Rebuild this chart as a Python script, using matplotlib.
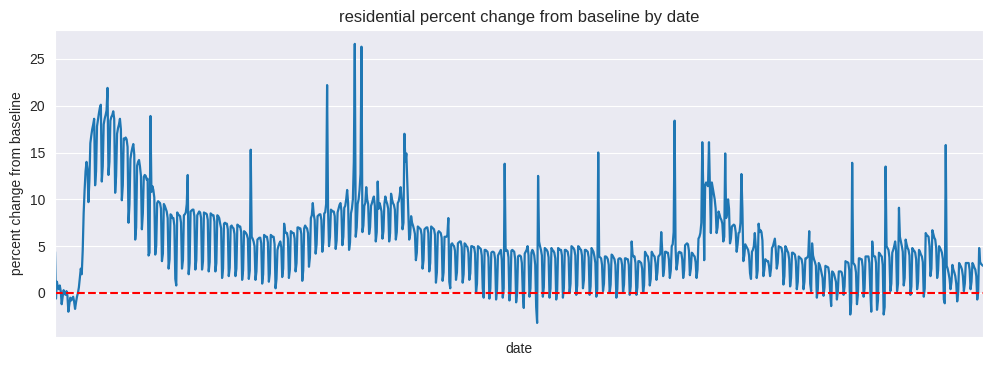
import numpy as np
import pandas as pd
import matplotlib
matplotlib.use("Agg")
import matplotlib.pyplot as plt
import seaborn as sns

# residential percent change from baseline, one value per day from 2020-02-15
# each row is one week, Saturday to Friday
res_2020 = [
    4.4, -0.6, 1.2, 0.6, 0.4, 0.8, 0.2,
    -1.2, -0.4, 0.3, 0.0, -0.2, 0.2, -0.3,
    -2.0, -1.2, -0.5, -0.8, -0.6, -0.4, -0.9,
    -1.7, -1.0, -0.4, 0.0, 0.6, 1.6, 2.6,
    2.0, 4.5, 8.5, 11.0, 13.0, 14.0, 13.2,
    9.7, 12.0, 16.0, 16.8, 17.5, 18.0, 18.6,
    11.5, 13.0, 17.8, 18.5, 19.2, 19.8, 20.1,
    11.9, 13.5, 18.0, 18.6, 19.0, 19.5, 21.9,
    12.6, 14.0, 18.4, 18.8, 19.0, 19.4, 18.6,
    10.7, 12.5, 17.0, 17.6, 18.0, 18.6, 17.5,
    9.9, 11.5, 16.5, 16.4, 16.6, 16.4, 15.6,
    7.5, 9.5, 14.3, 15.0, 15.5, 15.9, 14.8,
    5.7, 7.0, 13.6, 14.0, 14.2, 13.5, 12.5,
    6.8, 8.5, 12.4, 12.6, 12.5, 12.1, 12.2,
    4.0, 4.3, 18.9, 10.8, 11.4, 11.0, 10.2,
    4.1, 5.0, 9.6, 9.8, 9.7, 9.6, 9.0,
    3.4, 4.2, 9.5, 9.3, 9.0, 8.7, 8.0,
    2.6, 3.6, 8.4, 8.3, 8.0, 8.0, 7.2,
    1.5, 0.8, 8.6, 8.4, 8.3, 8.2, 7.5,
    2.6, 3.5, 8.3, 8.4, 8.6, 9.5, 12.6,
    2.0, 3.2, 8.7, 8.8, 8.9, 8.9, 8.2,
    2.5, 3.5, 8.3, 8.5, 8.7, 8.6, 8.0,
    2.5, 3.4, 8.6, 8.5, 8.5, 8.4, 7.8,
    2.3, 3.3, 8.5, 8.4, 8.3, 8.3, 7.6,
    2.3, 3.2, 8.3, 8.2, 8.0, 7.4, 6.9,
    1.6, 2.6, 7.4, 7.5, 7.4, 7.4, 6.8,
    1.8, 2.7, 7.1, 7.2, 7.0, 6.9, 6.3,
    1.8, 2.6, 7.3, 7.2, 7.1, 7.1, 6.5,
    1.4, 2.4, 6.6, 6.5, 6.4, 6.2, 5.8,
    1.5, 2.4, 15.3, 6.0, 5.8, 5.5, 5.0,
    1.4, 2.3, 5.7, 5.8, 5.9, 5.9, 5.3,
    1.0, 2.0, 6.2, 6.1, 6.0, 6.0, 5.4,
    1.2, 2.1, 6.2, 6.1, 6.0, 6.0, 5.2,
    0.5, 1.5, 4.6, 5.0, 5.3, 5.5, 4.9,
    1.7, 2.6, 7.4, 6.6, 6.4, 6.4, 5.8,
    1.6, 2.5, 6.6, 6.5, 6.4, 6.4, 5.8,
    2.3, 3.2, 7.0, 7.0, 6.9, 6.9, 6.3,
    1.3, 2.4, 6.9, 7.2, 7.0, 6.9, 6.4,
    2.8, 3.8, 8.0, 8.3, 9.6, 8.4, 7.8,
    4.2, 5.2, 8.2, 8.3, 8.4, 8.4, 7.8,
    4.4, 5.4, 8.5, 8.6, 9.5, 22.2, 8.9,
    5.0, 6.0, 8.9, 8.8, 8.7, 8.7, 8.2,
    4.7, 5.6, 8.6, 9.0, 9.4, 9.6, 8.8,
    5.1, 6.0, 9.1, 9.3, 10.0, 11.0, 9.6,
    4.6, 5.4, 8.5, 9.0, 10.0, 14.0, 26.6,
    6.0, 7.0, 9.5, 10.0, 11.0, 12.7, 26.3,
]

res_2021 = [
    6.5, 7.2, 9.3, 9.6, 11.3, 10.0, 9.5,
    6.3, 7.0, 9.3, 9.6, 10.0, 10.3, 9.3,
    5.5, 6.5, 11.9, 9.0, 9.6, 9.2, 8.7,
    5.8, 6.6, 9.5, 10.3, 9.8, 9.5, 9.0,
    5.5, 6.4, 10.6, 10.0, 9.6, 9.4, 8.9,
    5.7, 6.5, 9.6, 9.8, 10.4, 11.3, 10.0,
    6.8, 7.5, 17.0, 14.0, 14.9, 11.9, 9.0,
    5.7, 6.2, 8.2, 7.5, 7.2, 6.8, 6.3,
    3.5, 4.3, 7.1, 7.0, 6.9, 6.8, 6.2,
    2.6, 3.5, 6.8, 6.9, 7.0, 7.0, 6.4,
    2.3, 3.2, 7.1, 7.0, 6.9, 6.8, 6.2,
    1.1, 2.2, 6.4, 6.6, 6.5, 6.4, 5.9,
    1.3, 2.2, 6.0, 6.0, 6.0, 6.2, 8.0,
    1.2, 0.5, 5.2, 5.3, 5.1, 5.0, 4.5,
    1.4, 2.2, 5.3, 5.4, 5.5, 5.5, 4.9,
    1.1, 2.0, 5.3, 5.2, 5.0, 4.9, 4.3,
    1.4, 2.1, 5.0, 5.0, 4.9, 4.9, 4.2,
    0.0, 1.0, 5.0, 4.9, 4.8, 4.7, 4.0,
    0.5, -0.5, 4.6, 4.6, 4.5, 4.4, 3.8,
    -0.6, 0.5, 4.3, 4.4, 4.4, 4.3, 3.6,
    -0.7, 0.4, 4.0, 4.2, 4.4, 4.6, 3.5,
    -0.5, 0.5, 13.8, 4.5, 4.6, 4.5, 3.8,
    -0.8, 0.2, 4.5, 4.6, 4.5, 4.4, 3.6,
    -1.0, 0.0, 3.9, 4.0, 4.0, 3.9, 3.2,
    0.0, -1.6, 4.2, 4.4, 4.6, 5.0, 4.0,
    -0.4, 0.5, 4.3, 4.6, 4.4, 4.0, 3.0,
    -1.5, -3.2, 12.5, 5.5, 5.0, 4.6, 4.0,
    -0.4, 0.6, 4.8, 4.7, 4.6, 4.4, 3.8,
    -0.5, 0.5, 4.8, 4.6, 4.5, 4.3, 3.7,
    -0.7, 0.3, 4.8, 4.7, 4.6, 4.6, 4.0,
    -0.5, 0.5, 4.6, 4.6, 4.5, 4.4, 3.8,
    0.0, 1.0, 5.0, 4.9, 4.8, 4.6, 4.0,
    -0.2, 0.8, 5.0, 4.9, 4.7, 4.6, 4.0,
    0.5, 1.4, 4.6, 4.6, 4.5, 4.4, 3.8,
    -0.2, 0.7, 4.8, 4.6, 4.4, 3.9, 3.2,
    -0.4, 0.4, 15.0, 3.9, 3.8, 3.7, 3.0,
    0.2, 1.0, 3.9, 3.9, 3.8, 3.6, 3.0,
    0.0, 0.9, 4.1, 4.0, 3.8, 3.6, 3.0,
    -0.5, 0.4, 3.6, 3.7, 3.7, 3.6, 3.0,
    0.0, 0.9, 3.7, 3.7, 3.6, 3.6, 3.0,
    -0.2, 0.7, 5.5, 4.1, 3.9, 3.9, 3.2,
    -0.2, 0.6, 3.4, 3.4, 3.3, 3.2, 2.6,
    0.0, 0.8, 4.4, 4.2, 4.0, 3.9, 3.2,
    0.8, 1.5, 4.4, 4.2, 4.0, 3.9, 3.2,
    1.4, 2.2, 3.9, 4.0, 4.2, 6.5, 4.6,
    1.8, 2.5, 4.4, 4.4, 4.3, 4.3, 3.6,
    1.6, 2.4, 5.0, 5.2, 6.5, 18.4, 4.8,
    2.5, 3.2, 4.3, 4.4, 4.3, 4.3, 3.6,
    1.6, 2.4, 5.1, 5.2, 5.3, 5.2, 4.5,
    1.9, 2.6, 4.3, 4.2, 4.0, 3.9, 3.3,
    1.6, 2.5, 5.8, 6.0, 6.4, 7.5, 16.1,
    11.2, 3.5, 11.5, 11.8, 11.6, 11.4, 16.1,
]

res_2022 = [
    11.0, 6.4, 11.8, 11.2, 10.6, 10.0, 9.0,
    6.4, 7.0, 8.7, 8.4, 8.0, 7.8, 7.4,
    5.5, 6.0, 14.9, 8.0, 8.5, 10.0, 9.0,
    5.3, 5.8, 7.1, 7.2, 7.3, 7.2, 6.5,
    4.4, 5.2, 6.4, 6.5, 7.5, 12.7, 9.0,
    3.4, 4.0, 5.2, 5.0, 4.8, 4.6, 4.0,
    2.1, 1.5, 4.4, 4.6, 5.0, 6.4, 5.0,
    1.6, 2.4, 7.4, 6.5, 6.7, 6.5, 5.6,
    1.8, 2.5, 3.6, 3.5, 3.4, 3.4, 2.8,
    1.8, 2.6, 4.8, 5.0, 5.4, 5.8, 4.6,
    2.6, 3.2, 5.0, 4.9, 4.9, 4.8, 4.2,
    0.9, 1.8, 5.0, 4.8, 4.5, 4.3, 3.6,
    0.7, 1.6, 4.3, 4.3, 4.2, 4.1, 3.4,
    0.4, 1.2, 3.9, 3.8, 3.7, 3.6, 3.0,
    0.4, 1.2, 3.7, 3.7, 3.8, 4.0, 6.6,
    1.0, 0.2, 5.3, 4.0, 3.6, 3.3, 2.9,
    -0.5, 0.4, 3.2, 3.0, 2.6, 2.1, 1.6,
    -0.3, 0.6, 2.9, 2.8, 2.8, 2.7, 2.0,
    0.0, -1.4, 2.3, 2.2, 2.0, 1.6, 1.2,
    -0.7, 0.2, 2.3, 2.3, 2.3, 2.2, 1.6,
    -0.2, 0.7, 3.4, 3.3, 3.3, 3.2, 2.4,
    -2.3, -1.0, 13.9, 3.2, 3.1, 2.9, 2.2,
    -1.2, -0.2, 3.7, 3.7, 3.6, 3.6, 2.8,
    -0.4, 0.5, 3.9, 3.9, 3.9, 3.9, 3.2,
    0.2, -2.0, 5.5, 4.0, 3.9, 3.9, 3.2,
    -1.8, -0.8, 4.3, 4.2, 4.0, 3.9, 3.0,
    -2.3, -1.5, 13.5, 5.0, 4.8, 4.6, 3.8,
    0.2, 1.0, 4.3, 4.6, 5.0, 5.5, 4.5,
    0.2, 1.0, 9.1, 6.0, 5.5, 5.0, 4.4,
    0.8, 1.6, 5.7, 5.2, 4.8, 4.6, 4.0,
    -0.2, 0.7, 4.8, 4.6, 4.5, 4.3, 3.6,
    0.4, 1.2, 4.6, 4.4, 4.1, 3.9, 3.3,
    -0.4, 0.5, 6.4, 6.2, 6.1, 6.0, 5.0,
    1.8, 2.6, 6.7, 6.3, 5.9, 5.7, 4.8,
    1.6, 2.4, 5.0, 4.8, 4.6, 4.3, 3.6,
    -0.7, -1.1, 15.8, 2.9, 2.6, 2.1, 1.5,
    0.4, 1.2, 3.0, 2.5, 2.2, 1.8, 1.0,
    -0.9, 0.0, 3.2, 3.0, 2.8, 2.5, 1.8,
    0.2, 1.0, 3.2, 3.2, 3.2, 3.2, 2.5,
    0.4, 1.2, 3.2, 3.0, 2.7, 2.5, 1.8,
    -0.7, 0.2, 4.8, 3.3, 3.1, 3.0, 2.9,
]

values = np.array(res_2020 + res_2021 + res_2022)
dates = pd.date_range("2020-02-15", periods=len(values), freq="D")
df = pd.DataFrame({"date": dates, "residential": values})

sns.set_style("darkgrid")
plt.rcParams["font.family"] = ["Liberation Sans", "DejaVu Sans"]

fig, ax = plt.subplots(figsize=(9.93, 3.65), dpi=100)
fig.subplots_adjust(left=0.0554, right=0.9899, top=0.918, bottom=0.077)

sns.lineplot(data=df, x="date", y="residential", ax=ax, color="#1f77b4", linewidth=1.6)
ax.axhline(0, color="red", linestyle="--", linewidth=1.5)

# cosmetics
ax.set_xlim(dates[0], dates[-1])
ax.set_xticks([])
ax.set_xlabel("date")
ax.set_ylabel("percent change from baseline")
ax.set_title("residential percent change from baseline by date")

plt.savefig("out.png", dpi=100)
